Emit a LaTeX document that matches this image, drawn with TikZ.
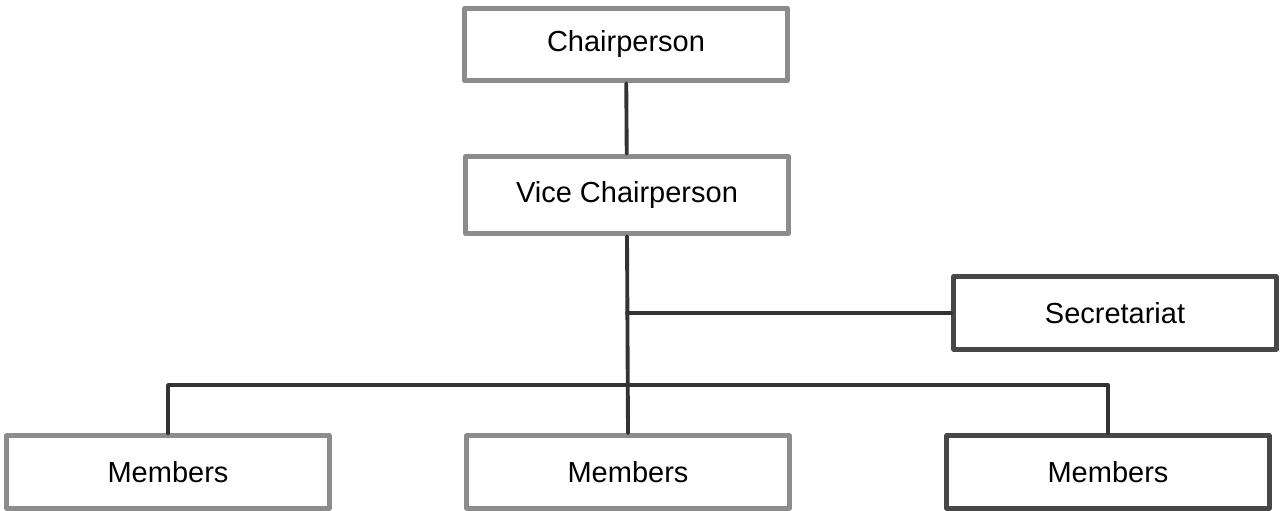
\documentclass[tikz,border=0pt]{standalone}
\usepackage{fontspec}
\setmainfont{Liberation Sans}
\usetikzlibrary{positioning}
\definecolor{scanpale}{gray}{0.55}
\definecolor{scandark}{gray}{0.28}
\definecolor{scanline}{gray}{0.2}
\begin{document}
\begin{tikzpicture}[line join = round, line cap = round,
	post/.style={draw=scanpale,line width=2.8pt,fill=white,minimum width=6.45cm,minimum height=1.45cm,font=\fontsize{16.5}{20}\selectfont},
	postdark/.style={post,draw=scandark},
	link/.style={draw=scanline,line width=2.2pt}]
	\useasboundingbox (0,0) rectangle (25.72,-10.22);
	%Các hộp chức vụ
	\node[post] (chair) at (12.52,-0.89) {Chairperson};
	\node[post,minimum height=1.55cm] (vice) at (12.54,-3.9) {Vice Chairperson};
	\node[postdark] (secr) at (22.3,-6.26) {Secretariat};
	\node[post] (memA) at (3.36,-9.44) {Members};
	\node[post] (memB) at (12.56,-9.44) {Members};
	\node[postdark] (memC) at (22.16,-9.44) {Members};
	\coordinate (bus) at (0,-7.7);
	%Các đường nối
	\draw[link] (chair) -- (vice);
	\draw[link] (vice.south) -- (memB.north);
	\draw[link] (vice.south |- secr.west) -- (secr.west);
	\draw[link] (memA.north) -- (memA.north |- bus) -- (memC.north |- bus) -- (memC.north);
\end{tikzpicture}
\end{document}
